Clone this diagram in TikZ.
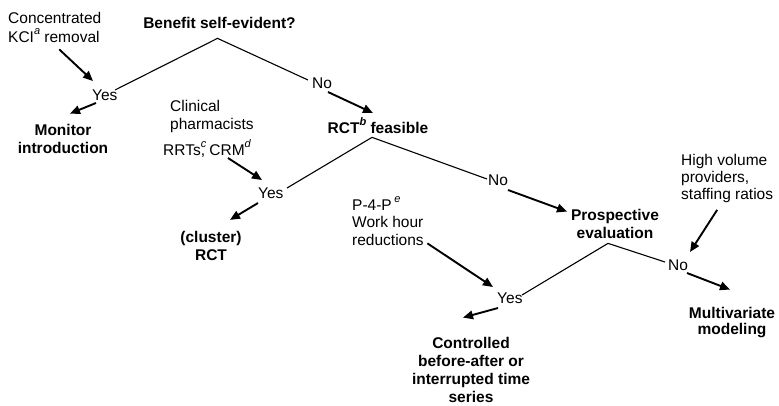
\documentclass[tikz,border=0pt]{standalone}
\usepackage{fontspec}
\setmainfont{Liberation Sans}
\usetikzlibrary{arrows.meta}
% footnote letters: italic, raised above the baseline
\newcommand\supnote[1]{\raisebox{0.46em}{\fontsize{11}{11}\selectfont\itshape #1}}
\begin{document}
\begin{tikzpicture}[x=1pt,y=-1pt,
  every node/.style={inner sep=0pt, font=\fontsize{15.5}{17.5}\selectfont},
  note/.style={align=left},
  outcome/.style={align=center, font=\fontsize{15.5}{18}\selectfont\bfseries},
  branch/.style={line width=1.1pt},
  pointer/.style={line width=1.9pt, -{Triangle[length=10pt,width=8.5pt]}}
]
\fill[white] (0,0) rectangle (779,405);
\useasboundingbox (0,0) rectangle (779,405);

% decisions, outcomes and notes (multi-line nodes sit on their last baseline)
\node[note, anchor=base west, font=\fontsize{15.5}{19}\selectfont] (kci) at (8,42) {Concentrated\\KCI\supnote{a} removal};
\node[outcome, anchor=base] (q1) at (219.5,28) {Benefit self-evident?};
\node[anchor=base west] (y1) at (92,100) {Yes};
\node[anchor=base west] (n1) at (312,88) {No};
\node[outcome, anchor=base] (mon) at (63,153) {Monitor\\introduction};
\node[note, anchor=base west] (clin) at (170,129) {Clinical\\pharmacists};
\node[note, anchor=base west] (rrt) at (163,155) {RRTs\rlap{\supnote{c}}, CRM\supnote{d}};
\node[outcome, anchor=base] (q2) at (378,133) {RCT\supnote{b} feasible};
\node[anchor=base west] (y2) at (258,198) {Yes};
\node[anchor=base west] (n2) at (488,185) {No};
\node[outcome, anchor=base] (cl) at (211,260) {(cluster)\\RCT};
\node[note, anchor=base west] (p4p) at (352,245) {P-4-P\,\supnote{e}\\Work hour\\reductions};
\node[outcome, anchor=base] (q3) at (615,238) {Prospective\\evaluation};
\node[note, anchor=base west, font=\fontsize{15.5}{17}\selectfont] (hv) at (681,199.5) {High volume\\providers,\\staffing ratios};
\node[anchor=base west] (y3) at (497,303) {Yes};
\node[anchor=base west] (n3) at (668,270) {No};
\node[outcome, anchor=base, font=\fontsize{15.5}{16}\selectfont\bfseries] (mv) at (732,334) {Multivariate\\modeling};
\node[outcome, anchor=base] (ctl) at (471,402) {Controlled\\before-after or\\interrupted time\\series};

% branching lines below each decision
\draw[branch] ([shift={(23,-10)}]y1.base west) -- ([shift={(-2,10)}]q1.south) -- ([shift={(-4,-8)}]n1.base west);
\draw[branch] ([shift={(29,-10)}]y2.base west) -- ([shift={(-6,4)}]q2.south) -- ([shift={(-1,-6)}]n2.base west);
\draw[branch] ([shift={(25,-8)}]y3.base west) -- ([shift={(-7,5)}]q3.south) -- ([shift={(-3,-8)}]n3.base west);

% arrows
\draw[pointer] ([shift={(4.5,7)}]kci.south) -- ([shift={(1,-19)}]y1.base west);
\draw[pointer] ([shift={(4,3)}]y1.base west) -- ([shift={(7,-10)}]mon.north);
\draw[pointer] ([shift={(16,4)}]n1.base west) -- ([shift={(-5,-20)}]q2.base);
\draw[pointer] ([shift={(65,3)}]rrt.base west) -- ([shift={(4,-18)}]y2.base west);
\draw[pointer] ([shift={(0,5)}]y2.base west) -- ([shift={(19,-10.7)}]cl.north);
\draw[pointer] ([shift={(20,5)}]n2.base west) -- ([shift={(-48,3)}]q3.north);
\draw[pointer] ([shift={(3.5,-2)}]p4p.south east) -- ([shift={(-4,-16)}]y3.base west);
\draw[pointer] ([shift={(1,5)}]y3.base west) -- ([shift={(-8,-19)}]ctl.north);
\draw[pointer] ([shift={(-10,7)}]hv.south) -- ([shift={(22,-18)}]n3.base west);
\draw[pointer] ([shift={(19,3)}]n3.base west) -- ([shift={(-2,-17)}]mv.north);
\end{tikzpicture}
\end{document}
